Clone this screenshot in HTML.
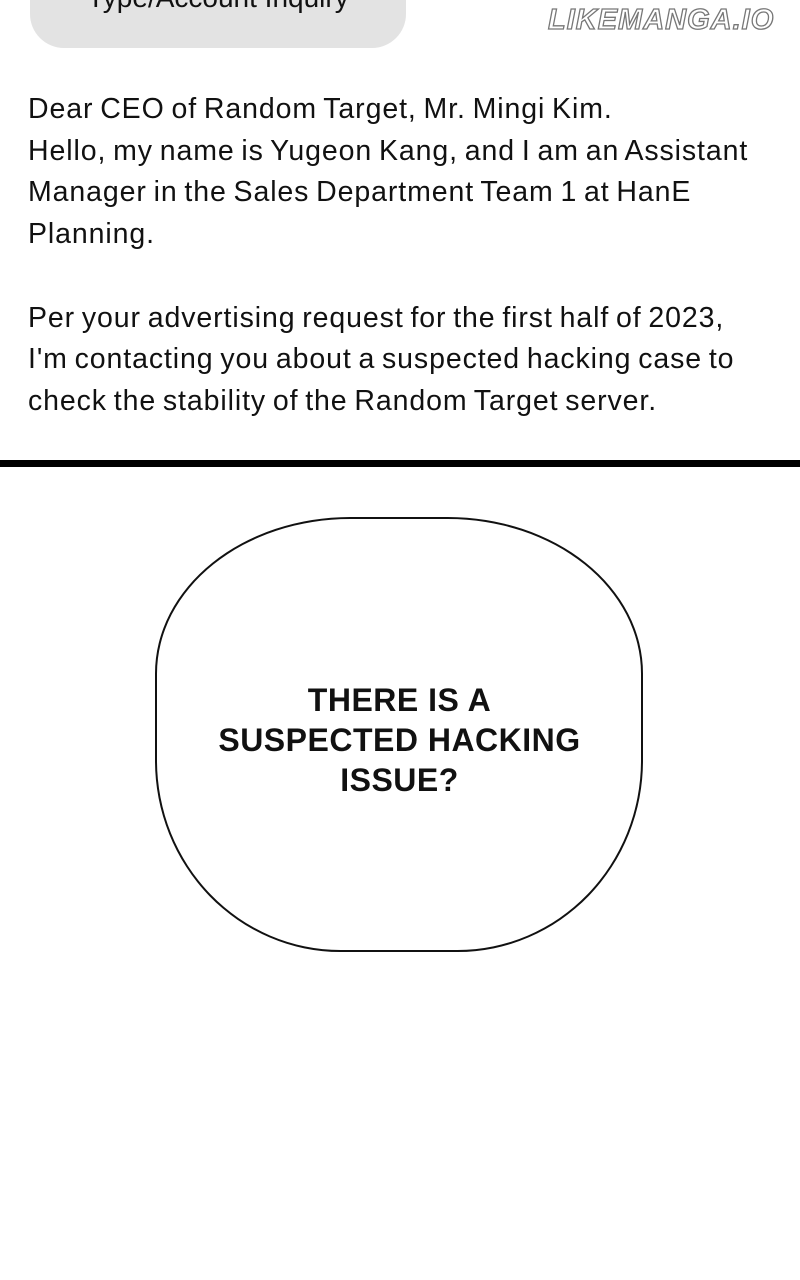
<!DOCTYPE html>
<html><head><style>
html,body{margin:0;padding:0;background:#fff;width:800px;height:1280px;overflow:hidden;position:relative;font-family:"Liberation Sans",sans-serif}
.box{position:absolute;left:30px;top:-40px;width:376px;height:88px;background:#e3e3e3;border-radius:0 0 34px 34px}
.box span{position:absolute;left:0;right:0;top:18px;text-align:center;font-size:28px;color:#111;line-height:40px}
.wm{position:absolute;left:548px;top:4px;font-size:29px;font-style:italic;font-weight:bold;color:#fff;-webkit-text-stroke:1.3px #777;letter-spacing:1px}
.txt{position:absolute;left:28px;top:89px;font-size:28.5px;line-height:41.7px;color:#111;letter-spacing:0.9px;word-spacing:-2px;width:790px;white-space:nowrap}
.bar{position:absolute;left:0;top:460px;width:800px;height:7px;background:#000}
.bub{position:absolute;left:155px;top:517px;width:484px;height:431px;border:2.5px solid #111;border-radius:40% 40% 38% 38% / 36% 36% 44% 44%}
.bt{position:absolute;left:155px;width:489px;top:680px;text-align:center;font-weight:bold;font-size:32px;line-height:40px;color:#111;letter-spacing:0.5px}
</style></head><body>
<div class="box"><span>Type/Account Inquiry</span></div>
<div class="wm">LIKEMANGA.IO</div>
<div class="txt">Dear CEO of Random Target, Mr. Mingi Kim.<br>Hello, my name is Yugeon Kang, and I am an Assistant<br>Manager in the Sales Department Team 1 at HanE<br>Planning.<br><br>Per your advertising request for the first half of 2023,<br>I'm contacting you about a suspected hacking case to<br>check the stability of the Random Target server.</div>
<div class="bar"></div>
<div class="bub"></div>
<div class="bt">THERE IS A<br>SUSPECTED HACKING<br>ISSUE?</div>
</body></html>
